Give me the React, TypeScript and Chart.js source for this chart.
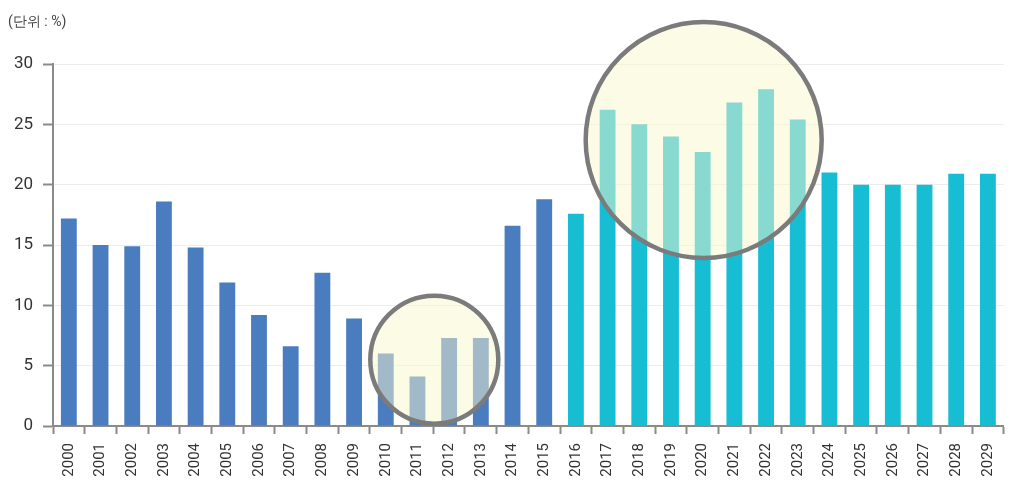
import React, { useEffect, useRef } from "react";
import { Chart, registerables } from "chart.js";

Chart.register(...registerables);

const years = [
  "2000","2001","2002","2003","2004","2005","2006","2007","2008","2009",
  "2010","2011","2012","2013","2014","2015","2016","2017","2018","2019",
  "2020","2021","2022","2023","2024","2025","2026","2027","2028","2029",
];
const values = [
  17.2, 15.0, 14.9, 18.6, 14.8, 11.9, 9.2, 6.6, 12.7, 8.9,
  6.0, 4.1, 7.3, 7.3, 16.6, 18.8, 17.6, 26.2, 25.0, 24.0,
  22.7, 26.8, 27.9, 25.4, 21.0, 20.0, 20.0, 20.0, 20.9, 20.9,
];
const barColors = years.map((y) => (Number(y) <= 2015 ? "#4a7cc0" : "#17bdd2"));
const yTicks = [0, 5, 10, 15, 20, 25, 30];
const unitLabel = "(단위 : %)";
// highlight circles: [from category, to category, centre value, radius px]
const highlights = [
  { from: "2011", to: "2012", value: 5.5, radius: 64 },
  { from: "2020", to: "2020", value: 23.7, radius: 118 },
];

const FONT = "'Roboto', sans-serif";

const overlayPlugin = {
  id: "overlay",
  afterDatasetsDraw(chart: any) {
    const { ctx, scales } = chart;
    const xs = scales.x;
    const ys = scales.y;
    ctx.save();
    for (const h of highlights) {
      const x1 = xs.getPixelForValue(years.indexOf(h.from));
      const x2 = xs.getPixelForValue(years.indexOf(h.to));
      const cx = (x1 + x2) / 2 + 1;
      const cy = ys.getPixelForValue(h.value);
      ctx.beginPath();
      ctx.arc(cx, cy, h.radius, 0, Math.PI * 2);
      ctx.fillStyle = "rgba(250,247,205,0.5)";
      ctx.fill();
      ctx.lineWidth = 4.5;
      ctx.strokeStyle = "#7b7b7b";
      ctx.stroke();
    }
    ctx.restore();
  },
  afterDraw(chart: any) {
    const { ctx } = chart;
    ctx.save();
    ctx.font = "14px " + FONT;
    ctx.fillStyle = "#444";
    ctx.textBaseline = "middle";
    ctx.textAlign = "left";
    ctx.fillText(unitLabel, 0, 14);
    ctx.restore();
  },
};

export default function App() {
  const ref = useRef<HTMLCanvasElement>(null);
  useEffect(() => {
    if (!ref.current) return;
    const chart = new Chart(ref.current, {
      type: "bar",
      data: {
        labels: years,
        datasets: [
          {
            data: values,
            backgroundColor: barColors,
            barPercentage: 0.5,
            categoryPercentage: 1,
          },
        ],
      },
      options: {
        animation: false,
        responsive: false,
        maintainAspectRatio: false,
        layout: { padding: { top: 56, right: 6, left: 0, bottom: 0 } },
        plugins: { legend: { display: false }, tooltip: { enabled: false } },
        scales: {
          x: {
            afterFit(scale: any) {
              scale.height = 54;
            },
            border: { color: "#8a8a8a", width: 2 },
            grid: {
              offset: true,
              drawOnChartArea: false,
              tickLength: 8,
              tickColor: "#8a8a8a",
              tickWidth: 2,
            },
            ticks: {
              minRotation: 90,
              maxRotation: 90,
              autoSkip: false,
              padding: 9,
              color: "#333",
              font: { family: FONT, size: 15 },
            },
          },
          y: {
            min: 0,
            max: 30,
            afterFit(scale: any) {
              scale.width = 45;
            },
            afterBuildTicks(scale: any) {
              scale.ticks = yTicks.map((v) => ({ value: v }));
            },
            border: { color: "#8a8a8a", width: 2 },
            grid: {
              color: "#ececec",
              tickColor: "#8a8a8a",
              tickLength: 10,
              tickWidth: 2,
              lineWidth: 1,
            },
            ticks: {
              padding: 10,
              color: "#333",
              font: { family: FONT, size: 17 },
            },
          },
        },
      },
      plugins: [overlayPlugin],
    });
    return () => chart.destroy();
  }, []);
  return (
    <div style={{ width: 1007, height: 472 }}>
      <canvas ref={ref} width={1007} height={472} style={{ display: "block" }} />
    </div>
  );
}
